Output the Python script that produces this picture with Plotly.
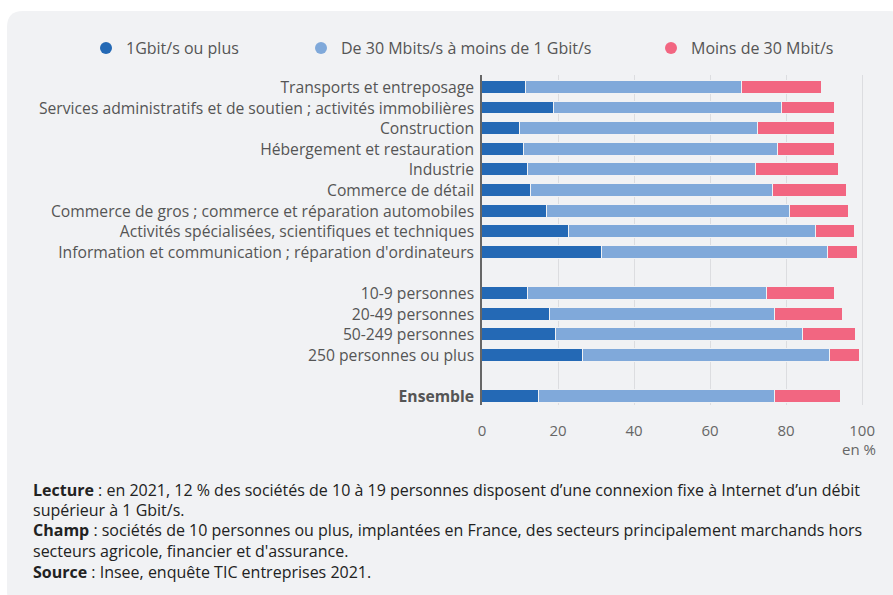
import plotly.graph_objects as go

# ---- data ----
categories = [
    "Transports et entreposage",
    "Services administratifs et de soutien ; activités immobilières",
    "Construction",
    "Hébergement et restauration",
    "Industrie",
    "Commerce de détail",
    "Commerce de gros ; commerce et réparation automobiles",
    "Activités spécialisées, scientifiques et techniques",
    "Information et communication ; réparation d'ordinateurs",
    "",
    "10-9 personnes",
    "20-49 personnes",
    "50-249 personnes",
    "250 personnes ou plus",
    "",
    "<b>Ensemble</b>",
]
gbit_plus = [11.5, 19, 10, 11, 12, 13, 17, 23, 31.5, None, 12, 18, 19.5, 26.5, None, 15]
mbit30_1g = [57, 60, 62.5, 67, 60, 63.5, 64, 65, 59.5, None, 63, 59, 65, 65, None, 62]
moins30 = [21, 14, 20.5, 15, 22, 19.5, 15.5, 10, 8, None, 18, 18, 14, 8, None, 17.5]

series_names = ["1Gbit/s ou plus", "De 30 Mbits/s à moins de 1 Gbit/s", "Moins de 30 Mbit/s"]
series_colors = ["#2469b5", "#80a9da", "#f26681"]
x_ticks = [0, 20, 40, 60, 80, 100]

notes = [
    "<b>Lecture</b> : en 2021, 12 % des sociétés de 10 à 19 personnes disposent d’une connexion fixe à Internet d’un débit",
    "supérieur à 1 Gbit/s.",
    "<b>Champ</b> : sociétés de 10 personnes ou plus, implantées en France, des secteurs principalement marchands hors",
    "secteurs agricole, financier et d'assurance.",
    "<b>Source</b> : Insee, enquête TIC entreprises 2021.",
]

# ---- figure geometry ----
W, H = 893, 595
L, R, T, B = 482, 29, 75, 190
pw, ph = W - L - R, H - T - B


def px_x(p):
    return (p - L) / pw


def px_y(p):
    return (H - B - p) / ph


ypos = list(range(len(categories)))
fig = go.Figure()

series = [gbit_plus, mbit30_1g, moins30]
for i, (name, vals, col) in enumerate(zip(series_names, series, series_colors)):
    fig.add_trace(go.Bar(
        y=ypos, x=vals, orientation="h", name=name,
        marker=dict(color=col, line=dict(color="#f1f2f4", width=1)),
        width=0.62, showlegend=False,
    ))

legend_text_x = [127, 342, 692]
for i, (name, col) in enumerate(zip(series_names, series_colors)):
    fig.add_trace(go.Scatter(
        x=[None], y=[None], mode="markers", name=name,
        marker=dict(color=col, size=14, symbol="circle"),
        legend="legend" if i == 0 else f"legend{i+1}", showlegend=True,
    ))

legend_common = dict(
    orientation="h", yanchor="middle", xanchor="left",
    y=px_y(48), bgcolor="rgba(0,0,0,0)",
    font=dict(family="Open Sans", size=16, color="#555555"),
    itemsizing="constant",
)
layout_legends = {}
for i, tx in enumerate(legend_text_x):
    key = "legend" if i == 0 else f"legend{i+1}"
    layout_legends[key] = dict(legend_common, x=px_x(tx - 41))

fig.update_layout(
    width=W, height=H,
    margin=dict(l=L, r=R, t=T, b=B, pad=0),
    paper_bgcolor="white",
    plot_bgcolor="rgba(0,0,0,0)",
    barmode="stack",
    bargap=0,
    font=dict(family="Open Sans", size=15, color="#555555"),
    **layout_legends,
)

fig.update_xaxes(
    range=[0, 100.5], tickvals=x_ticks, ticktext=[str(v) for v in x_ticks],
    showgrid=True, gridcolor="#dcdde0", gridwidth=1,
    zeroline=False, showline=False, ticks="",
    ticklabelstandoff=15,
    tickfont=dict(family="Open Sans", size=15, color="#666666"),
)
fig.update_yaxes(
    range=[15.4, -0.6], tickvals=ypos, ticktext=categories,
    showgrid=False, zeroline=False, ticks="",
    showline=True, linecolor="#666666", linewidth=1.5,
    ticklabelstandoff=3,
    tickfont=dict(family="Open Sans", size=15.7, color="#555555"),
)

# rounded panel background
x0, y0, x1, y1, r = 7, 11, 905, 607, 16
path = (f"M {px_x(x0 + r)} {px_y(y0)} L {px_x(x1 - r)} {px_y(y0)} "
        f"Q {px_x(x1)} {px_y(y0)} {px_x(x1)} {px_y(y0 + r)} "
        f"L {px_x(x1)} {px_y(y1 - r)} Q {px_x(x1)} {px_y(y1)} {px_x(x1 - r)} {px_y(y1)} "
        f"L {px_x(x0 + r)} {px_y(y1)} Q {px_x(x0)} {px_y(y1)} {px_x(x0)} {px_y(y1 - r)} "
        f"L {px_x(x0)} {px_y(y0 + r)} Q {px_x(x0)} {px_y(y0)} {px_x(x0 + r)} {px_y(y0)} Z")
fig.add_shape(type="path", path=path, xref="paper", yref="paper",
              fillcolor="#f1f2f4", line=dict(width=0), layer="below")

# "en %" unit label
fig.add_annotation(text="en %", xref="paper", yref="paper",
                   x=px_x(878), y=px_y(449), xanchor="right", yanchor="middle",
                   showarrow=False, font=dict(family="Open Sans", size=15, color="#666666"))

# notes
note_y = [490, 510, 530, 551, 572]
for txt, yy in zip(notes, note_y):
    fig.add_annotation(text=txt, xref="paper", yref="paper",
                       x=px_x(31), y=px_y(yy), xanchor="left", yanchor="middle",
                       showarrow=False, align="left",
                       font=dict(family="Open Sans", size=16, color="#222222"))

fig.write_html(
    "out.html",
    config={"displayModeBar": False},
    post_script="document.body.style.margin='0';document.body.style.overflow='hidden';",
)
